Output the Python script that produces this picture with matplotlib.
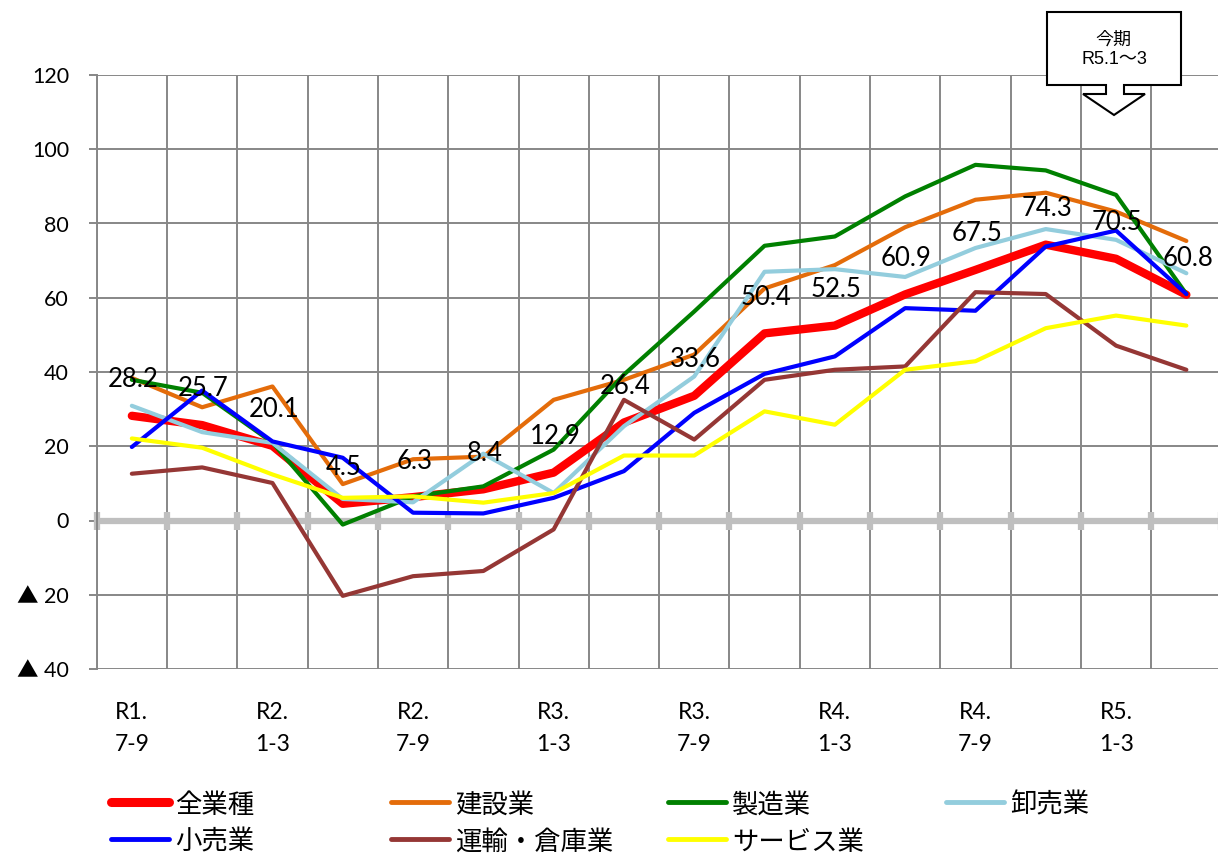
import matplotlib
matplotlib.use('Agg')
import matplotlib.pyplot as plt
from matplotlib.lines import Line2D
from matplotlib.patches import Polygon
from matplotlib.ticker import FuncFormatter
import numpy as np

# ---------------- data ----------------
periods = ['R1.7-9', 'R1.10-12', 'R2.1-3', 'R2.4-6', 'R2.7-9', 'R2.10-12',
           'R3.1-3', 'R3.4-6', 'R3.7-9', 'R3.10-12', 'R4.1-3', 'R4.4-6',
           'R4.7-9', 'R4.10-12', 'R5.1-3', 'R5.4-6']
tick_labels = ['R1.\n7-9', '', 'R2.\n1-3', '', 'R2.\n7-9', '', 'R3.\n1-3', '',
               'R3.\n7-9', '', 'R4.\n1-3', '', 'R4.\n7-9', '', 'R5.\n1-3', '']

zen_gyoshu = [28.2, 25.7, 20.1, 4.5, 6.3, 8.4, 12.9, 26.4, 33.6, 50.4, 52.5, 60.9, 67.5, 74.3, 70.5, 60.8]
kensetsu   = [38.4, 30.5, 36.1, 9.8, 16.5, 17.2, 32.5, 37.9, 44.7, 62.5, 68.8, 79.0, 86.4, 88.3, 83.2, 75.3]
seizo      = [37.9, 34.4, 21.0, -1.1, 6.5, 9.2, 19.1, 39.3, 56.3, 74.0, 76.5, 87.3, 95.8, 94.3, 87.7, 61.0]
oroshiuri  = [30.9, 23.8, 20.9, 5.8, 4.9, 18.0, 7.4, 25.4, 38.8, 67.0, 67.7, 65.6, 73.4, 78.5, 75.6, 66.6]
kouri      = [19.8, 35.0, 21.3, 16.9, 2.1, 1.9, 6.1, 13.3, 29.0, 39.5, 44.2, 57.2, 56.5, 73.8, 78.1, 61.0]
unyu       = [12.6, 14.3, 10.1, -20.3, -15.0, -13.6, -2.4, 32.5, 21.8, 37.9, 40.6, 41.5, 61.5, 61.0, 47.1, 40.6]
service    = [22.1, 19.6, 12.4, 6.1, 6.5, 4.8, 7.4, 17.5, 17.5, 29.4, 25.8, 40.6, 42.9, 51.8, 55.2, 52.5]

series_names = ['全業種', '建設業', '製造業', '卸売業', '小売業', '運輸・倉庫業', 'サービス業']
series_values = [zen_gyoshu, kensetsu, seizo, oroshiuri, kouri, unyu, service]
series_colors = ['#FF0000', '#E46C0A', '#008000', '#93CDDD', '#0000FF', '#953735', '#FFFF00']
series_widths = [6.0, 3.0, 3.0, 3.0, 3.0, 3.0, 3.0]

y_ticks = [-40, -20, 0, 20, 40, 60, 80, 100, 120]
callout_lines = ['今期', 'R5.1～3']

# ---------------- figure ----------------
W, H = 1218, 855
fig = plt.figure(figsize=(W / 100, H / 100), dpi=100)
fig.patch.set_facecolor('white')

def fx(px):
    return px / W

def fy(py):
    return 1 - py / H

ax = fig.add_axes([fx(96.7), fy(669), 1124.8 / W, (669 - 75) / H])
n = len(periods)
x = np.arange(n)
ax.set_xlim(-0.5, n - 0.5)
ax.set_ylim(-40, 120)

grid_col = '#878787'
ax.set_yticks(y_ticks)
ax.yaxis.set_major_formatter(FuncFormatter(lambda v, p: ('▲ %d' % abs(v)) if v < 0 else '%d' % v))
ax.set_xticks(x)
ax.set_xticklabels(tick_labels)
ax.set_xticks(np.arange(-0.5, n, 1), minor=True)
ax.grid(which='minor', axis='x', color=grid_col, lw=1.4, zorder=0)
ax.grid(which='major', axis='y', color=grid_col, lw=1.4, zorder=0)
ax.tick_params(axis='x', which='both', length=0, pad=24)
ax.tick_params(axis='y', length=6, width=1.4, color=grid_col, pad=14)
for lab in ax.get_xticklabels():
    lab.set_fontfamily(['Lato', 'DejaVu Sans'])
    lab.set_fontsize(16.5)
    lab.set_linespacing(1.6)
    lab.set_va('top')
for lab in ax.get_yticklabels():
    lab.set_fontfamily(['Lato', 'Noto Sans CJK JP', 'DejaVu Sans'])
    lab.set_fontsize(15.5)
for s in ['top', 'right', 'bottom']:
    ax.spines[s].set_visible(False)
ax.spines['left'].set_color(grid_col)
ax.spines['left'].set_linewidth(1.4)

# zero axis with category tick marks
ax.axhline(0, color='#BFBFBF', lw=4.5, zorder=2.1)
bounds = np.arange(-0.5, n, 1)
ax.plot(bounds, np.zeros_like(bounds), ls='none', marker='|', ms=13, mew=4.5,
        color='#BFBFBF', zorder=2.2, clip_on=False)

# series
for name, vals, col, lw in zip(series_names, series_values, series_colors, series_widths):
    ax.plot(x, vals, color=col, lw=lw, solid_joinstyle='round', solid_capstyle='round', zorder=3)

# data labels for 全業種
for i, v in enumerate(zen_gyoshu):
    ax.annotate(f'{v:.1f}', (i, v), xytext=(1.0, 26), textcoords='offset points',
                ha='center', va='center', fontsize=18.5, family=['Lato', 'DejaVu Sans'],
                color='black', zorder=5)

# legend (manual layout)
col_x = [108, 388, 665, 943]
row_y = [802, 839]
for i, (name, col, lw) in enumerate(zip(series_names, series_colors, series_widths)):
    cx = col_x[i % 4]
    cy = row_y[i // 4]
    fig.add_artist(Line2D([fx(cx + 3), fx(cx + 61)], [fy(cy), fy(cy)], color=col,
                          lw=lw + 0.5 if lw > 3 else 3.5, solid_capstyle='round',
                          transform=fig.transFigure))
    fig.text(fx(cx + 67), fy(cy), name, ha='left', va='center_baseline', fontsize=19,
             family=['Noto Sans CJK JP', 'DejaVu Sans'], color='black')

# callout box with down arrow
pts_px = [(1047, 12), (1181, 12), (1181, 85), (1124, 85), (1124, 94), (1145, 94),
          (1114, 115), (1083, 94), (1106, 94), (1106, 85), (1047, 85)]
poly = Polygon([(fx(a), fy(b)) for a, b in pts_px], closed=True, facecolor='white',
               edgecolor='black', lw=1.5, transform=fig.transFigure, zorder=10)
fig.add_artist(poly)
fig.text(fx(1113), fy(40), callout_lines[0], ha='center', va='center', fontsize=13,
         family=['Noto Sans CJK JP', 'DejaVu Sans'], zorder=11)
fig.text(fx(1114), fy(60), callout_lines[1], ha='center', va='center', fontsize=13,
         family=['Liberation Sans', 'Noto Sans CJK JP', 'DejaVu Sans'], zorder=11)

fig.savefig('out.png', dpi=100, facecolor='white')
